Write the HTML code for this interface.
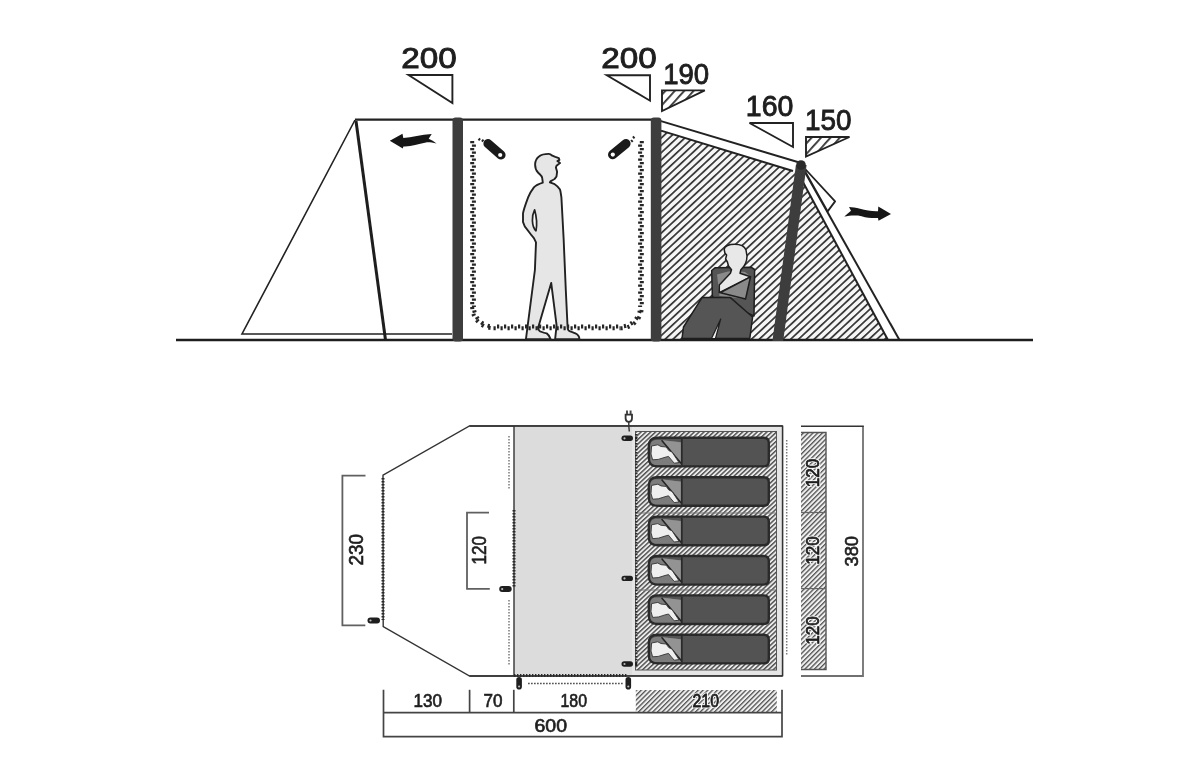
<!DOCTYPE html>
<html><head><meta charset="utf-8">
<style>
html,body{margin:0;padding:0;background:#fff;width:1200px;height:758px;overflow:hidden}
svg{display:block;will-change:transform}
text{font-family:"Liberation Sans",sans-serif;fill:#1e1e1e;stroke:#1e1e1e;stroke-width:0.9px}
#floor text{stroke-width:0.65px}
#floor text.b{stroke-width:0.8px}
#floor text.w{fill:#fff;stroke:#fff;stroke-width:2.6px}
</style></head><body>
<svg width="1200" height="758" viewBox="0 0 1200 758">
<defs>
  <pattern id="hT" patternUnits="userSpaceOnUse" width="5.35" height="5.35" patternTransform="rotate(-43)">
    <rect width="5.35" height="5.35" fill="#f6f6f6"/>
    <rect x="0" y="0" width="5.35" height="1.7" fill="#333"/>
  </pattern>
  <pattern id="hS" patternUnits="userSpaceOnUse" width="7" height="7" patternTransform="translate(0,2) rotate(-48)">
    <rect width="7" height="7" fill="#fff"/>
    <rect x="0" y="0" width="7" height="1.8" fill="#333"/>
  </pattern>
  <pattern id="hB" patternUnits="userSpaceOnUse" width="3.3" height="3.3" patternTransform="rotate(-43)">
    <rect width="3.3" height="3.3" fill="#ececec"/>
    <rect x="0" y="0" width="3.3" height="1.45" fill="#505050"/>
  </pattern>
  <pattern id="hC" patternUnits="userSpaceOnUse" width="3.36" height="3.36" patternTransform="rotate(-45)">
    <rect width="3.36" height="3.36" fill="#f0f0f0"/>
    <rect x="0" y="0" width="3.36" height="1.3" fill="#505050"/>
  </pattern>
</defs>

<!-- ================= TOP SIDE VIEW ================= -->
<g id="top">
  <!-- hatched rear section -->
  <polygon points="661,130.6 795,171.6 801.3,179 887.7,340 661,340" fill="url(#hT)"/>
  <!-- front triangle -->
  <polyline points="452,334 242,334 355,120" fill="none" stroke="#222" stroke-width="1.6"/>
  <!-- roof line -->
  <line x1="355" y1="119.6" x2="656" y2="119.6" stroke="#222" stroke-width="2.2"/>
  <!-- diagonal front pole -->
  <line x1="356" y1="121" x2="385.5" y2="340" stroke="#1e1e1e" stroke-width="3"/>
  <!-- rear roof band -->
  <line x1="656" y1="119.6" x2="801" y2="163" stroke="#222" stroke-width="2"/>
  <line x1="661" y1="130.6" x2="793" y2="171" stroke="#222" stroke-width="2"/>
  <!-- front slope band -->
  <line x1="801.5" y1="166" x2="899.2" y2="339.5" stroke="#222" stroke-width="2"/>
  <line x1="801.3" y1="179" x2="887.7" y2="339.5" stroke="#222" stroke-width="2"/>
  <!-- flap -->
  <polygon points="801.5,165 835.1,201.4 827.6,211.4" fill="#fff" stroke="#222" stroke-width="1.8" stroke-linejoin="round"/>
  <!-- ground -->
  <line x1="176" y1="340" x2="1033" y2="340" stroke="#1e1e1e" stroke-width="2.6"/>
  <!-- poles -->
  <rect x="452.5" y="117.5" width="10.5" height="224" rx="3" fill="#3d3d3d"/>
  <rect x="650.8" y="117.5" width="10.6" height="224" rx="3" fill="#3d3d3d"/>
  <polygon points="795.9,165 806.6,165 783.2,341 772.4,341" fill="#3d3d3d"/>
  <circle cx="801" cy="165" r="4.8" fill="#2a2a2a"/>

  <!-- lamps -->
  <g>
    <line x1="488" y1="143.6" x2="501" y2="155" stroke="#1a1a1a" stroke-width="9.2" stroke-linecap="round"/>
    <circle cx="500.2" cy="155" r="2.1" fill="#fff"/>
    <line x1="478.5" y1="140.3" x2="480.1" y2="138.3" stroke="#222" stroke-width="1.9"/>
    <line x1="481.9" y1="141.6" x2="483.5" y2="139.6" stroke="#222" stroke-width="1.9"/>
    <line x1="626" y1="143.6" x2="612.6" y2="154.6" stroke="#1a1a1a" stroke-width="9.2" stroke-linecap="round"/>
    <circle cx="612.8" cy="154.6" r="2.1" fill="#fff"/>
    <line x1="632.9" y1="136.4" x2="634.5" y2="138.3" stroke="#222" stroke-width="1.9"/>
    <line x1="631.1" y1="140" x2="632.7" y2="141.9" stroke="#222" stroke-width="1.9"/>
  </g>

  <!-- standing person -->
  <path d="M548.8,153.9 C545,153.9 541,154.8 539.3,156.3 C537,158 535.1,161 535.1,164.6 C535.1,168 536,170.6 538,172.5 C540.5,175 542.2,176 542.2,178 L542.8,182.6 C538.5,184 535.5,185.5 533.9,187.3 C531,191 529.5,194 528.1,197.4 C526,203 524,208 523,213.4 L523,222.1 C524,226 526,229 528.1,230.8 C530,233.5 532,236 533.9,238.1 L536,242.4 L534.9,270 L525.9,339.3 L550.7,339.3 C550,337 549,335 546.7,333.4 C543,332.5 540.5,331.8 539.5,330.8 C537.8,329 537.8,327 538.8,325.4 L551.2,282.9 L556.6,325.4 L555.1,339.3 L579.4,339.3 C579.4,336.5 578,334.5 575.4,333.4 C572,332 569.5,331.5 568.5,330.4 C567.7,329 567.5,327 567.5,325.4 L565.8,290 L563.6,238 L561.4,197.4 C560.8,193 560.5,191 560,189.6 C558,186.5 556,185 554.7,184.2 L549.9,182.4 L550.5,181.3 C552,180.5 554,179.5 554.7,178.9 L556.5,176.5 L557.1,171.8 L555.9,167.6 L556.5,165.8 L560,163.1 L557.4,161.1 L559.4,159.9 L558.8,158.1 L555.3,156.9 L552.3,155.7 C551,154.5 550,153.9 548.8,153.9 Z" fill="#e6e6e6" stroke="#222" stroke-width="1.9" stroke-linejoin="round"/>
  <path d="M534.6,209.8 C533,213 532.2,217 532.4,220.6 C532.6,225 534,229 536,230.8 C536.9,226 536.9,218 534.6,209.8 Z" fill="#fafafa" stroke="#222" stroke-width="1.7" stroke-linejoin="round"/>

  <!-- standing area zipper door -->
  <g fill="none" stroke="#262626" stroke-width="4" stroke-dasharray="2.2 4.8">
    <path d="M472.2,141 V307"/>
    <path d="M473.9,141 V307" stroke-dashoffset="3.5"/>
    <path d="M641.8,141 V307"/>
    <path d="M640.1,141 V307" stroke-dashoffset="3.5"/>
    <path d="M493.5,328.3 H620.5"/>
    <path d="M493.5,326.6 H620.5" stroke-dashoffset="3.5"/>
    <path d="M472.2,307 A21.3,21.3 0 0 0 493.5,328.3"/>
    <path d="M473.9,307 A19.6,19.6 0 0 0 493.5,326.6" stroke-dashoffset="3.5"/>
    <path d="M620.5,328.3 A21.3,21.3 0 0 0 641.8,307"/>
    <path d="M620.5,326.6 A19.6,19.6 0 0 0 640.1,307" stroke-dashoffset="3.5"/>
  </g>
  <!-- seated person -->
  <g stroke="#1e1e1e" stroke-width="1.5" stroke-linejoin="round">
    <polygon points="711.7,270.5 715,267.8 751,267.2 754.6,269.5 754,316 745,312 712.4,297" fill="#555"/>
    <polygon points="717,274.5 728,271.5 735,271 745,272 750,276 746,299 719.5,296" fill="#8a8a8a" stroke="none"/>
    <path d="M734.6,244.2 C729.5,244.2 724.2,246 724.2,249.5 L724.9,253 L726.6,255 L725.6,259 L727.4,262 L728.5,266 L731.5,269.8 L730.4,273.3 L719.3,285 L719.3,292.7 L750.5,276.8 L740,273.3 L740.8,269.9 C745,266 747,262 747,256 L746,250 C744.5,246 740,244.2 734.6,244.2 Z" fill="#e8e8e8"/>
    <polygon points="720.5,292.7 750.5,276.8 745.6,299" fill="#8a8a8a"/>
    <polygon points="682,338.5 683.5,327 702,297.6 730.4,297.6 752.6,317 749.8,338.5" fill="#555"/>
    <polygon points="711.5,338.5 720.7,319 715.5,338.5" fill="#f0f0f0" stroke-width="1.2"/>
  </g>
  <!-- arrows -->
  <path d="M389.8,140.8 L402.5,133.8 L403.3,137.9 C412,137.6 421,134.8 431.7,134.1 L428.7,138.8 C431.5,140 434,141.6 436.5,143.6 C432.5,142.6 429.5,142.2 426,142.4 C418,143.8 412,146.3 405,146.6 L403.4,146.6 L402.8,148.4 Z" fill="#161616"/>
  <path d="M891,214 L878.3,206.5 L878,211.2 C872,211.4 866,210.6 860,208.8 C856,207.6 852,207.1 849,207 L851,210.8 C849,212.6 846.5,214.6 844.3,216.5 C848,215.6 853,215.2 858,215.5 C863,216.6 867,218.1 872,218.1 L878,218.1 L878.5,220.8 Z" fill="#161616"/>
  <!-- dimension labels -->
  <text x="401.3" y="68.2" font-size="29.3" textLength="55.5" lengthAdjust="spacingAndGlyphs">200</text>
  <polygon points="408.5,75 452.4,75 452.4,103" fill="#fff" stroke="#222" stroke-width="1.9" stroke-linejoin="miter"/>
  <text x="601.3" y="68.3" font-size="29.3" textLength="55.5" lengthAdjust="spacingAndGlyphs">200</text>
  <polygon points="606.8,75.2 650,75.2 650,100.7" fill="#fff" stroke="#222" stroke-width="1.9"/>
  <text x="663.2" y="83.5" font-size="29.3" textLength="46" lengthAdjust="spacingAndGlyphs">190</text>
  <polygon points="662,90.4 704.8,90.4 662,111" fill="url(#hS)" stroke="#222" stroke-width="1.9"/>
  <text x="745.8" y="116.1" font-size="29.3" textLength="47.5" lengthAdjust="spacingAndGlyphs">160</text>
  <polygon points="749.5,123 793,123 793,147" fill="#fff" stroke="#222" stroke-width="1.9"/>
  <text x="805" y="130.1" font-size="29.3" textLength="46.5" lengthAdjust="spacingAndGlyphs">150</text>
  <polygon points="806,137 849.5,137 806,156.5" fill="url(#hS)" stroke="#222" stroke-width="1.9"/>
</g>


<!-- ================= FLOOR PLAN ================= -->
<g id="floor">
  <!-- outline white -->
  <polygon points="469.5,426 782.5,426 782.5,675.7 469.6,676 383.2,626.5 383,475.2" fill="#fff" stroke="#333" stroke-width="1.4" stroke-linejoin="miter"/>
  <!-- gray floor areas -->
  <rect x="514" y="426.8" width="268" height="248.2" fill="#dcdcdc"/>
  <rect x="632" y="426.8" width="150" height="248.2" fill="#e5e5e5"/>
  <line x1="469.5" y1="426" x2="782.5" y2="426" stroke="#333" stroke-width="1.4"/>
  <line x1="782.5" y1="426" x2="782.5" y2="676" stroke="#333" stroke-width="1.4"/>
  <line x1="469.6" y1="676" x2="782.5" y2="676" stroke="#333" stroke-width="1.4"/>
  <line x1="514" y1="426" x2="514" y2="676" stroke="#333" stroke-width="1.4"/>
  <!-- bedroom hatch -->
  <rect x="635.5" y="431.5" width="141" height="238.5" fill="url(#hB)" stroke="#555" stroke-width="1"/>
  <line x1="636" y1="513" x2="776" y2="513" stroke="#777" stroke-width="1"/>
  <line x1="636" y1="590" x2="776" y2="590" stroke="#777" stroke-width="1"/>
  <line x1="636.3" y1="434" x2="636.3" y2="667" stroke="#2a2a2a" stroke-width="2.4" stroke-dasharray="1.3 1.7"/>
  <!-- zippers -->
  <g stroke="#2a2a2a" stroke-width="3" stroke-dasharray="1.4 1.6" fill="none">
    <line x1="383" y1="478" x2="383" y2="620"/>
    <line x1="514" y1="510" x2="514" y2="588"/>
    <line x1="514" y1="675.5" x2="628" y2="675.5"/>
    
  </g>
  
  <!-- light dotted lines -->
  <g stroke="#7a7a7a" stroke-width="1.5" stroke-dasharray="1.6 1.4" fill="none">
    <line x1="509" y1="436" x2="509" y2="490"/>
    <line x1="509" y1="600" x2="509" y2="666"/>
    <line x1="786.7" y1="440" x2="786.7" y2="656"/>
    <line x1="528" y1="683.5" x2="624" y2="683.5" stroke="#555" stroke-dasharray="1.7 1.3"/>
  </g>
  <!-- sleeping bags -->
  <g id="bag">
    <path d="M657.3,437.8 H763.8 Q768.8,437.8 768.8,442.8 V461.4 Q768.8,466.4 763.8,466.4 H657.3 Q648.8,466.4 648.8,457.9 V446.3 Q648.8,437.8 657.3,437.8 Z" fill="#535353" stroke="#2a2a2a" stroke-width="2.4"/>
    <path d="M650.3,446 C650.3,442 652.5,439.9 656.5,439.9 L662,439.9 L681.6,442.3 L681.6,465 L656.5,465 C652.5,465 650.3,462.8 650.3,459 Z" fill="#7c7c7c"/>
    <polygon points="661.8,440.2 681.6,442.4 681.6,464.6" fill="#939393"/>
    <line x1="661.6" y1="440.2" x2="681.2" y2="463.6" stroke="#222" stroke-width="1.5"/>
    <line x1="681.8" y1="439" x2="681.8" y2="465.5" stroke="#2a2a2a" stroke-width="1.8"/>
    <path d="M651.6,446 L657.8,444.8 L661,446.5 L666.2,447 L668.8,450.6 L672,452 L679,462.6 L674.2,463.2 L670.8,459.2 L668.5,456.4 L665,457.3 L658.3,459.4 L652.6,459.8 L651,454 Z" fill="#efefef" stroke="#333" stroke-width="0.9" stroke-linejoin="round"/>
  </g>
  <use href="#bag" y="39.4"/>
  <use href="#bag" y="78.8"/>
  <use href="#bag" y="118.2"/>
  <use href="#bag" y="157.6"/>
  <use href="#bag" y="197"/>
  <!-- toggles -->
  <g id="tog">
    <rect x="621.5" y="435.6" width="11.5" height="5.4" rx="2.7" fill="#1e1e1e"/>
    <circle cx="624.5" cy="438.3" r="1.1" fill="#bbb"/>
    <rect x="635" y="437.2" width="2.2" height="2.2" fill="#222"/>
  </g>
  <use href="#tog" y="140.1"/>
  <use href="#tog" y="225.7"/>
  <g>
    <rect x="499.2" y="586.1" width="12.5" height="6" rx="3" fill="#1e1e1e"/>
    <circle cx="502.2" cy="589.1" r="1.1" fill="#bbb"/>
    <rect x="367.5" y="617.5" width="12.5" height="6" rx="3" fill="#1e1e1e"/>
    <circle cx="370.5" cy="620.5" r="1.1" fill="#bbb"/>
    <rect x="516.3" y="677" width="5.6" height="12.5" rx="2.8" fill="#1e1e1e"/>
    <circle cx="519.1" cy="686.5" r="1.1" fill="#bbb"/>
    <rect x="625.5" y="677" width="5.6" height="12.5" rx="2.8" fill="#1e1e1e"/>
    <circle cx="628.3" cy="686.5" r="1.1" fill="#bbb"/>
  </g>
  <!-- plug -->
  <g stroke="#333" fill="none" stroke-width="1.8">
    <path d="M625.6,414.6 H632 V418.3 C632,420.6 630.7,421.8 628.8,421.8 C626.9,421.8 625.6,420.6 625.6,418.3 Z" fill="#fff"/>
    <line x1="627" y1="410.5" x2="627" y2="414" stroke-width="1.9" stroke="#444"/>
    <line x1="630.6" y1="410.5" x2="630.6" y2="414" stroke-width="1.9" stroke="#444"/>
    <path d="M628.8,422 L628.8,426 L629.3,431.5" stroke-width="1.4"/>
  </g>

  <!-- left brackets -->
  <polyline points="365.5,475.7 342.4,475.7 342.4,625.3 365.3,625.3" fill="none" stroke="#606060" stroke-width="1.8"/>
  <polyline points="489,512.6 467,512.6 467,588.8 489.8,588.8" fill="none" stroke="#606060" stroke-width="1.8"/>
  <text transform="translate(362.6,565.6) rotate(-90)" font-size="20" textLength="31.5" lengthAdjust="spacingAndGlyphs" class="s">230</text>
  <text transform="translate(485.8,564.6) rotate(-90)" font-size="20" textLength="28.5" lengthAdjust="spacingAndGlyphs" class="s">120</text>

  <!-- right dimension column -->
  <rect x="801" y="432.5" width="25" height="237" fill="url(#hC)"/>
  <polyline points="801,432.5 826,432.5 826,669.5 801,669.5" fill="none" stroke="#555" stroke-width="1.4"/>
  <line x1="801" y1="512.5" x2="826" y2="512.5" stroke="#666" stroke-width="1.2"/>
  <line x1="801" y1="588.6" x2="826" y2="588.6" stroke="#666" stroke-width="1.2"/>
  <polyline points="863,426.2 863,676 801,676" fill="none" stroke="#707070" stroke-width="1.8"/>
  <line x1="801" y1="426.2" x2="863.8" y2="426.2" stroke="#333" stroke-width="1.5"/>
  <g stroke="#fff" stroke-width="3.2" fill="#fff" font-size="19">
    <text class="w" transform="translate(819.2,487.2) rotate(-90)" textLength="28.5" lengthAdjust="spacingAndGlyphs">120</text>
    <text class="w" transform="translate(819.2,564.8) rotate(-90)" textLength="28.5" lengthAdjust="spacingAndGlyphs">120</text>
    <text class="w" transform="translate(819.2,644.7) rotate(-90)" textLength="28.5" lengthAdjust="spacingAndGlyphs">120</text>
  </g>
  <g font-size="19">
    <text class="b" transform="translate(819.2,487.2) rotate(-90)" textLength="28.5" lengthAdjust="spacingAndGlyphs">120</text>
    <text class="b" transform="translate(819.2,564.8) rotate(-90)" textLength="28.5" lengthAdjust="spacingAndGlyphs">120</text>
    <text class="b" transform="translate(819.2,644.7) rotate(-90)" textLength="28.5" lengthAdjust="spacingAndGlyphs">120</text>
  </g>
  <text transform="translate(858,566.5) rotate(-90)" font-size="19" textLength="30.5" lengthAdjust="spacingAndGlyphs">380</text>

  <!-- bottom dimension bar -->
  <rect x="635.8" y="690" width="141" height="22.5" fill="url(#hC)"/>
  <text class="w" x="692.5" y="706.5" font-size="17.5" textLength="26.5" lengthAdjust="spacingAndGlyphs">210</text>
  <g fill="none" stroke="#444" stroke-width="1.7">
    <polyline points="383.5,689.8 383.5,736.7 782,736.7 782,689.8"/>
    <line x1="383.5" y1="712.7" x2="782" y2="712.7"/>
    <line x1="469.6" y1="689.8" x2="469.6" y2="712.7"/>
    <line x1="513.8" y1="689.8" x2="513.8" y2="712.7"/>
  </g>
  <text x="413.5" y="706.5" font-size="17.5" textLength="28.5" lengthAdjust="spacingAndGlyphs">130</text>
  <text x="483.5" y="706.5" font-size="17.5" textLength="19" lengthAdjust="spacingAndGlyphs">70</text>
  <text x="560.5" y="706.5" font-size="17.5" textLength="26.5" lengthAdjust="spacingAndGlyphs">180</text>
  <text class="b" x="692.5" y="706.5" font-size="17.5" textLength="26.5" lengthAdjust="spacingAndGlyphs">210</text>
  <text x="534.5" y="731.8" font-size="17.5" textLength="32.5" lengthAdjust="spacingAndGlyphs">600</text>
</g>

</svg>
</body></html>
